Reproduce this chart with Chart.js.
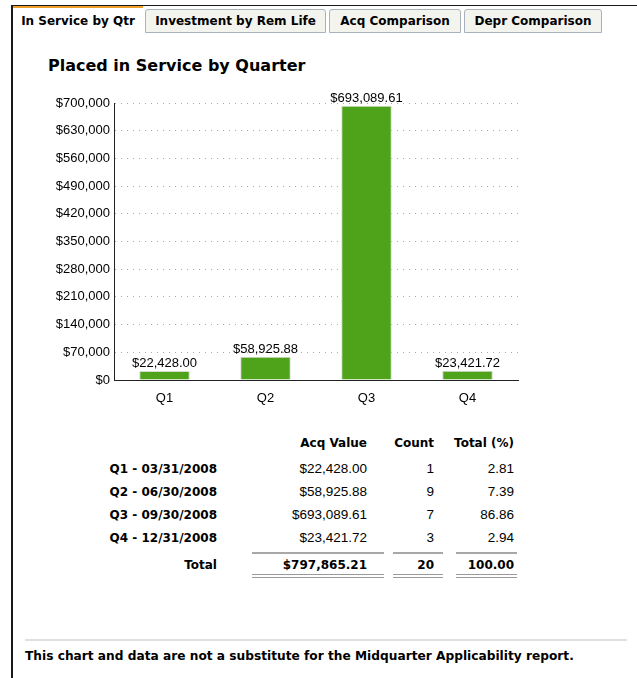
<!DOCTYPE html>
<html>
<head>
<meta charset="utf-8">
<script src="https://cdn.jsdelivr.net/npm/chart.js@4.4.0/dist/chart.umd.min.js"></script>
<style>
  body { margin: 0; background: #fff; width: 637px; height: 678px; overflow: hidden; position: relative;
         font-family: "Liberation Sans", Arial, sans-serif; color: #000; }
  .frame-top { position: absolute; left: 11px; top: 5px; right: 0; height: 1px; background: #1a1a1a; }
  .frame-left { position: absolute; left: 11px; top: 5px; width: 2px; bottom: 0; background: #1a1a1a; }
  .tab { position: absolute; box-sizing: border-box; text-align: center; white-space: nowrap;
         font: bold 12px "DejaVu Sans", sans-serif; }
  .tab.active { top: 6px; height: 27px; line-height: 27px; background: #fff; border-top: 2px solid #f0a028; }
  .tab.idle { top: 9px; height: 24px; line-height: 22px; background: #f4f4ef;
              border: 1px solid #a9b1bd; border-radius: 3px 3px 0 0; }
  .title { position: absolute; left: 48px; top: 56px; line-height: 20px; font: bold 16px "DejaVu Sans", sans-serif; }
  #wrap { position: absolute; left: 0; top: 80px; width: 637px; height: 340px; }
  .cell { position: absolute; font-size: 13.5px; line-height: 16px; white-space: nowrap; transform: translateX(-100%); }
  .cell.b { font: bold 12px "DejaVu Sans", sans-serif; line-height: 16px; }
  .rule { position: absolute; height: 2px; background: #a8a8a8; }
  .rule2 { position: absolute; height: 1px; background: #9a9a9a; }
  .foot-line { position: absolute; left: 25px; width: 602px; top: 639px; height: 2px; background: #e0e0e0; }
  .foot { position: absolute; left: 25px; top: 649px; line-height: 16px; font: bold 12.2px "DejaVu Sans", sans-serif; }
</style>
</head>
<body>
<div class="frame-top"></div>
<div class="frame-left"></div>
<div class="tab active" style="left:13px; width:130px;">In Service by Qtr</div>
<div class="tab idle" style="left:145px; width:181px;">Investment by Rem Life</div>
<div class="tab idle" style="left:329px; width:132px;">Acq Comparison</div>
<div class="tab idle" style="left:464px; width:138px;">Depr Comparison</div>
<div class="title">Placed in Service by Quarter</div>
<div id="wrap"><canvas id="chart" width="637" height="340"></canvas></div>
<div id="table"></div>
<div class="foot-line"></div>
<div class="foot">This chart and data are not a substitute for the Midquarter Applicability report.</div>

<script>
// quarterly placed-in-service data
var quarters = ['Q1', 'Q2', 'Q3', 'Q4'];
var periods = ['Q1 - 03/31/2008', 'Q2 - 06/30/2008', 'Q3 - 09/30/2008', 'Q4 - 12/31/2008'];
var acqValues = [22428.00, 58925.88, 693089.61, 23421.72];
var counts = [1, 9, 7, 3];
var percents = [2.81, 7.39, 86.86, 2.94];
var yTicks = [0, 70000, 140000, 210000, 280000, 350000, 420000, 490000, 560000, 630000, 700000];

function money(v, dec) {
  return '$' + v.toLocaleString('en-US', { minimumFractionDigits: dec, maximumFractionDigits: dec });
}

var labelFont = '"Liberation Sans", Arial, sans-serif';

// value labels above each bar
var barLabels = {
  id: 'barLabels',
  afterDatasetsDraw: function(chart) {
    var ctx = chart.ctx;
    var meta = chart.getDatasetMeta(0);
    ctx.save();
    ctx.font = '13px ' + labelFont;
    ctx.fillStyle = '#000';
    ctx.textAlign = 'center';
    ctx.textBaseline = 'bottom';
    meta.data.forEach(function(bar, i) {
      ctx.fillText(money(chart.data.datasets[0].data[i], 2), bar.x, bar.y - 1);
    });
    ctx.restore();
  }
};

var ctx = document.getElementById('chart').getContext('2d');
var chart = new Chart(ctx, {
  type: 'bar',
  data: {
    labels: quarters,
    datasets: [{
      data: acqValues,
      backgroundColor: '#4ea31b',
      borderColor: '#d4dccd',
      borderWidth: 1,
      barPercentage: 0.5,
      categoryPercentage: 1
    }]
  },
  options: {
    responsive: false,
    animation: false,
    devicePixelRatio: 1,
    layout: { padding: { left: 0, right: 119, top: 23, bottom: 0 } },
    plugins: { legend: { display: false }, tooltip: { enabled: false } },
    scales: {
      x: {
        grid: { display: false, drawTicks: false },
        border: { color: '#222', width: 1 },
        ticks: { color: '#000', padding: 11, font: { family: labelFont, size: 13 } },
        afterFit: function(scale) { scale.height = 40; }
      },
      y: {
        min: 0,
        max: 700000,
        afterBuildTicks: function(scale) {
          scale.ticks = yTicks.map(function(v) { return { value: v }; });
        },
        grid: { color: '#a8a8a8', drawTicks: false },
        border: { color: '#222', width: 1, dash: [1, 5] },
        ticks: {
          color: '#000',
          padding: 4,
          font: { family: labelFont, size: 13 },
          callback: function(v) { return money(v, 0); }
        },
        afterFit: function(scale) { scale.width = 114; }
      }
    }
  },
  plugins: [barLabels]
});

// summary table under the chart
var table = document.getElementById('table');
function cell(text, right, top, bold) {
  var d = document.createElement('div');
  d.className = bold ? 'cell b' : 'cell';
  d.style.left = right + 'px';
  d.style.top = top + 'px';
  d.textContent = text;
  table.appendChild(d);
}
function rule(cls, left, width, top) {
  var d = document.createElement('div');
  d.className = cls;
  d.style.left = left + 'px';
  d.style.width = width + 'px';
  d.style.top = top + 'px';
  table.appendChild(d);
}

var colRight = [217, 367, 434, 514];
cell('Acq Value', colRight[1], 435, true);
cell('Count', colRight[2], 435, true);
cell('Total (%)', colRight[3], 435, true);
periods.forEach(function(p, i) {
  var y = 461 + i * 23;
  cell(p, colRight[0], y, true);
  cell(money(acqValues[i], 2), colRight[1], y, false);
  cell(String(counts[i]), colRight[2], y, false);
  cell(percents[i].toFixed(2), colRight[3], y, false);
});
var totalAcq = acqValues.reduce(function(a, b) { return a + b; }, 0);
var totalCount = counts.reduce(function(a, b) { return a + b; }, 0);
var totalPct = percents.reduce(function(a, b) { return a + b; }, 0);
cell('Total', colRight[0], 557, true);
cell(money(totalAcq, 2), colRight[1], 557, true);
cell(String(totalCount), colRight[2], 557, true);
cell(totalPct.toFixed(2), colRight[3], 557, true);

var spans = [[252, 132], [393, 50], [456, 61]];
spans.forEach(function(s) {
  rule('rule', s[0], s[1], 552);
  rule('rule2', s[0], s[1], 574);
  rule('rule2', s[0], s[1], 577);
});
</script>
</body>
</html>
